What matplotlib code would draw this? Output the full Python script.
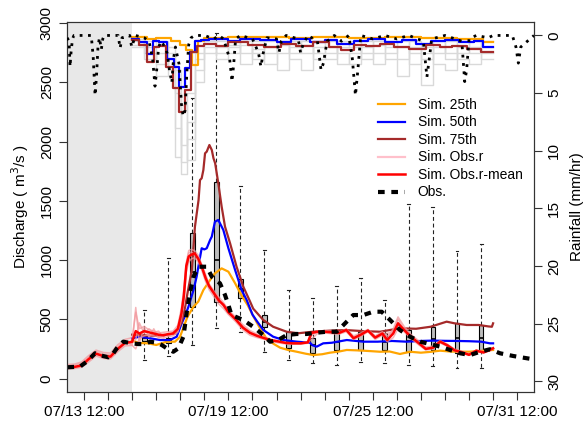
import matplotlib
matplotlib.use('Agg')
import matplotlib.pyplot as plt
from matplotlib.lines import Line2D
import numpy as np

plt.rcParams['font.family'] = ['Liberation Sans', 'DejaVu Sans']

# time axis: days since 07/13 12:00
x_ticks = list(range(19))
x_labels = ['07/13 12:00' if d == 0 else '07/19 12:00' if d == 6 else
            '07/25 12:00' if d == 12 else '07/31 12:00' if d == 18 else ''
            for d in x_ticks]
warmup_end = 2.0

# Observed discharge
t_obs = [-0.69, -0.17, 0.11, 0.46, 0.73, 1.01, 1.22, 1.36, 1.63, 1.98, 2.26, 2.54, 2.74,
         3.02, 3.23, 3.44, 3.71, 3.92, 4.13, 4.27, 4.41, 4.55, 4.76, 5.1, 5.31, 5.65, 5.86,
         6.0, 6.13, 6.62, 7.03, 7.45, 7.73, 8.07, 8.42, 8.84, 9.25, 9.67, 10.09, 10.5,
         10.85, 11.19, 11.61, 12.02, 12.37, 12.72, 13.13, 13.55, 13.97, 14.38, 14.8, 15.21,
         15.63, 16.04, 16.46, 16.87, 17.29, 17.84, 18.4, 18.68]
q_obs = [95, 100, 142, 213, 193, 179, 213, 255, 311, 297, 291, 291, 311,
         302, 283, 255, 226, 255, 353, 560, 730, 860, 944, 944, 860, 804, 705,
         621, 536, 494, 437, 367, 311, 325, 367, 376, 376, 387, 395, 395,
         466, 536, 536, 564, 564, 494, 409, 353, 311, 291, 269, 241,
         213, 198, 226, 247, 213, 190, 171, 162]

# Simulated with observed rainfall: members and mean
t_r = [-0.7, -0.4, -0.1, 0.2, 0.5, 0.8, 1.1, 1.4, 1.7, 2.0, 2.15, 2.3, 2.5, 2.7, 2.9, 3.1,
       3.3, 3.5, 3.7, 3.9, 4.05, 4.15, 4.25, 4.35, 4.45, 4.6, 4.75, 4.9, 5.05, 5.2, 5.4,
       5.6, 5.8, 6.0, 6.3, 6.6, 6.9, 7.2, 7.5, 7.8, 8.1, 8.4, 8.7, 9.0, 9.3, 9.45, 9.7,
       10.0, 10.3, 10.6, 10.9, 11.2, 11.5, 11.8, 12.1, 12.4, 12.6, 12.85, 13.05, 13.3,
       13.6, 13.9, 14.2, 14.5, 14.8, 15.1, 15.4, 15.7, 16.0, 16.3, 16.6, 16.85, 17.0]
q_r_mean = [95, 98, 110, 165, 210, 190, 185, 250, 300, 310, 400, 380, 400, 390, 380, 370,
            365, 375, 380, 420, 550, 700, 950, 1030, 1045, 1057, 1010, 940, 850, 780, 720,
            660, 620, 560, 500, 430, 385, 360, 340, 322, 312, 300, 297, 297, 305, 385, 395,
            395, 390, 385, 410, 340, 370, 405, 345, 380, 325, 380, 466, 410,
            350, 300, 250, 260, 311, 280, 238, 222, 200, 235, 220, 240, 255]
q_r_a = [118, 122, 140, 195, 240, 220, 215, 285, 330, 345, 560, 420, 440, 410, 400, 385,
         390, 395, 400, 450, 600, 760, 980, 1080, 1090, 1080, 1040, 960, 880, 800, 740,
         690, 640, 580, 520, 455, 405, 375, 350, 330, 318, 305, 300, 300, 310, 360, 400,
         405, 400, 390, 420, 360, 385, 415, 360, 395, 340, 420, 520, 440,
         370, 320, 265, 275, 320, 290, 248, 230, 210, 240, 228, 248, 262]
q_r_b = [80, 84, 95, 140, 190, 170, 165, 225, 275, 280, 250, 340, 360, 370, 360, 350,
         340, 355, 360, 390, 500, 640, 900, 980, 1010, 1020, 980, 910, 820, 750, 690,
         630, 590, 540, 480, 410, 365, 345, 330, 312, 300, 292, 290, 290, 298, 330, 380,
         385, 378, 375, 395, 330, 355, 395, 330, 365, 310, 345, 420, 395,
         335, 285, 240, 250, 300, 272, 230, 215, 195, 228, 215, 233, 250]
q_r_c = [104, 112, 130, 182, 228, 205, 202, 268, 318, 280, 600, 300, 430, 350, 420, 340,
         380, 360, 390, 420, 560, 720, 960, 1060, 1070, 1040, 1000, 930, 860, 770, 710,
         670, 610, 550, 500, 440, 390, 360, 340, 325, 310, 300, 295, 295, 302, 370, 390,
         395, 392, 380, 405, 345, 372, 410, 350, 385, 380, 400, 470, 420,
         355, 305, 255, 265, 310, 285, 240, 225, 205, 235, 222, 240, 258]
q_r_d = [88, 95, 108, 152, 205, 178, 180, 238, 292, 300, 330, 470, 380, 420, 390, 400,
         350, 380, 370, 405, 530, 680, 930, 1010, 1060, 1050, 1020, 950, 840, 790, 730,
         650, 630, 570, 495, 425, 395, 352, 345, 318, 315, 296, 300, 292, 308, 375, 398,
         390, 395, 380, 415, 350, 365, 400, 350, 372, 360, 390, 500, 420,
         345, 310, 245, 268, 305, 285, 235, 226, 198, 238, 218, 236, 252]

# Simulated percentiles (forecast rainfall)
t_p25 = [2.0, 2.3, 2.67, 3.0, 3.44, 3.78, 3.99, 4.15, 4.3, 4.55, 4.75, 4.96, 5.24, 5.44,
         5.72, 6.0, 6.28, 6.55, 6.8, 7.05, 7.3, 7.6, 7.9, 8.15, 8.5, 8.84, 9.2, 9.53, 9.9,
         10.22, 10.6, 10.92, 11.3, 11.61, 12.0, 12.3, 12.7, 13.13, 13.55, 14.0, 14.4, 14.8,
         15.2, 15.6, 16.0, 16.46, 16.8, 17.0]
q_p25 = [320, 300, 297, 283, 311, 311, 353, 440, 522, 606, 650, 747, 832, 888,
         930, 902, 804, 700, 620, 520, 430, 330, 290, 260, 240, 226, 210, 198, 205,
         218, 228, 241, 238, 235, 230, 226, 228, 207, 226, 218, 225, 235,
         228, 226, 226, 232, 238, 241]
t_p50 = [2.0, 2.33, 2.74, 3.16, 3.57, 3.85, 4.06, 4.2, 4.34, 4.55, 4.68, 4.8, 4.89, 5.0,
         5.1, 5.24, 5.31, 5.44, 5.58, 5.79, 6.0, 6.28, 6.55, 6.76, 7.0, 7.2, 7.45, 7.86,
         8.28, 8.84, 9.39, 9.5, 9.67, 9.94, 10.3, 10.92, 11.6, 12.2, 12.8, 13.4, 14.0, 14.5,
         15.0, 15.5, 16.0, 16.5, 16.87, 17.0]
q_p50 = [340, 353, 340, 325, 325, 353, 466, 530, 606, 747, 860, 1000, 1100, 1090,
         1100, 1170, 1198, 1324, 1339, 1254, 1100, 916, 747, 663, 540, 480, 410, 353,
         325, 311, 302, 280, 269, 297, 302, 325, 311, 311, 317, 311, 317, 320,
         318, 317, 315, 311, 297, 297]
t_p75 = [2.0, 2.5, 3.0, 3.5, 3.8, 4.05, 4.2, 4.3, 4.41, 4.48, 4.61, 4.76, 4.82, 4.89, 4.96,
         5.03, 5.1, 5.21, 5.31, 5.38, 5.45, 5.58, 5.72, 5.86, 6.07, 6.34, 6.62, 6.9, 7.03,
         7.45, 7.86, 8.42, 8.9, 9.5, 10.2, 10.9, 11.6, 12.3, 13.13, 13.8, 14.4, 15.07, 15.4,
         15.9, 16.4, 16.8, 16.95, 17.0]
q_p75 = [370, 365, 360, 370, 380, 470, 600, 720, 840, 916, 1282, 1507, 1676, 1691, 1761,
         1902, 1916, 1972, 1930, 1860, 1818, 1649, 1451, 1282, 1142, 944, 775, 650, 590,
         494, 437, 395, 382, 395, 404, 409, 400, 395, 424, 420, 437, 480, 466,
         452, 452, 440, 437, 466]

# Daily boxplots of simulated discharge
box_t = [2.5, 3.5, 4.5, 5.5, 6.5, 7.5, 8.5, 9.5, 10.5, 11.5, 12.5, 13.5, 14.5, 15.5, 16.5]
box_lo = [156, 190, 283, 424, 395, 226, 156, 128, 114, 142, 128, 114, 106, 86, 86]
box_q1 = [320, 300, 600, 650, 680, 437, 255, 213, 241, 241, 241, 226, 241, 213, 241]
box_med = [340, 320, 900, 1000, 760, 480, 320, 280, 310, 320, 310, 320, 330, 340, 340]
box_q3 = [360, 345, 1226, 1662, 840, 536, 395, 340, 382, 395, 382, 409, 437, 466, 452]
box_hi = [578, 1015, 2367, 2918, 1628, 1085, 747, 677, 781, 846, 660, 1471, 1451, 1077, 1136]

# Observed rainfall
t_rain = [-0.7, -0.62, -0.58, -0.54, -0.48, -0.42, 0.3, 0.38, 0.46, 0.52, 0.58, 0.64, 0.72,
          0.78, 0.84, 1.42, 1.5, 1.58, 1.9, 1.98, 2.06, 2.14, 2.5, 2.7, 2.85, 2.95, 3.02,
          3.1, 3.2, 3.3, 3.45, 3.55, 3.65, 3.72, 3.8, 3.95, 4.05, 4.12, 4.2, 4.28, 4.35,
          4.45, 4.6, 5.0, 5.4, 5.6, 5.8, 6.05, 6.15, 6.22, 6.3, 6.5, 7.0, 7.25, 7.35, 7.45,
          7.6, 8.0, 8.1, 8.2, 8.4, 8.9, 9.0, 9.1, 9.3, 9.7, 9.85, 9.95, 10.1, 10.4, 10.7,
          11.0, 11.15, 11.28, 11.38, 11.5, 12.0, 12.5, 13.0, 13.5, 14.1, 14.25, 14.35,
          14.45, 15.0, 15.7, 15.82, 15.9, 16.0, 16.3, 16.8, 17.0, 17.8, 17.95, 18.05,
          18.15, 18.7]
r_obs = [0.2, 0.5, 2.7, 1.5, 0.3, 0.0, 0.0, 1.8, 5.2, 3.5, 1.0, 0.2, 1.2,
         0.3, 0.0, 0.0, 1.1, 0.2, 0.0, 1.0, 0.5, 0.0, 0.2, 0.5, 2.0, 4.4, 3.0,
         1.0, 0.5, 0.8, 1.5, 3.0, 4.1, 2.0, 1.0, 2.5, 6.0, 7.0, 6.5, 3.0, 0.8,
         0.2, 0.0, 0.0, 0.3, 0.0, 0.3, 2.0, 4.0, 2.5, 0.3, 0.0, 0.3, 1.5, 2.7, 1.5,
         0.2, 0.3, 1.5, 0.5, 0.0, 0.3, 1.5, 0.8, 0.0, 0.5, 3.0, 2.4, 0.5, 0.0, 0.5,
         0.0, 2.0, 5.2, 3.0, 0.0, 0.3, 0.0, 0.3, 0.0, 0.5, 3.6, 2.0,
         0.3, 0.0, 0.5, 4.0, 3.0, 0.3, 0.0, 0.2, 0.0, 0.0, 1.0, 2.4,
         1.0, 0.0]

# Forecast rainfall percentiles (step)
t_r25 = [2.0, 2.6, 3.0, 3.6, 4.0, 4.25, 4.5, 4.75, 5.0, 6.0, 8.5, 9.5, 11.0, 12.5, 14.0,
         15.5, 16.6, 17.0]
r_p25 = [0.1, 0.3, 0.2, 0.5, 0.8, 1.3, 2.6, 0.5, 0.2, 0.1, 0.2, 0.1, 0.2, 0.1, 0.2,
         0.3, 0.6, 0.6]
t_r50 = [2.0, 2.3, 2.6, 2.85, 3.1, 3.45, 3.75, 3.95, 4.2, 4.4, 4.6, 4.85, 5.2, 6.0, 6.5,
         7.3, 8.0, 8.6, 9.4, 10.0, 10.5, 11.2, 11.8, 12.5, 13.2, 13.8, 14.4, 15.0, 15.6,
         16.2, 16.6, 17.0]
r_p50 = [0.3, 0.6, 1.6, 0.5, 0.6, 2.0, 2.7, 4.5, 2.8, 1.4, 0.5, 0.4, 0.3, 0.5, 0.3,
         0.4, 0.6, 0.3, 0.6, 0.4, 0.7, 0.5, 0.3, 0.6, 0.4, 0.7, 0.5, 0.4, 0.6,
         0.5, 1.0, 1.0]
t_r75 = [2.0, 2.3, 2.6, 2.9, 3.1, 3.4, 3.7, 3.95, 4.2, 4.45, 4.7, 5.0, 5.5, 6.0, 6.8,
         7.5, 8.2, 8.8, 9.5, 10.2, 10.7, 11.2, 11.7, 12.3, 12.9, 13.5, 14.2, 14.8, 15.3,
         15.9, 16.5, 17.0]
r_p75 = [0.4, 0.8, 2.3, 1.0, 0.9, 2.7, 4.6, 6.6, 4.7, 1.4, 0.9, 0.7, 0.9, 0.6, 0.8,
         1.0, 0.7, 0.9, 0.6, 1.0, 1.3, 0.8, 0.9, 0.7, 1.0, 1.2, 0.8, 1.0, 0.9,
         1.2, 1.4, 1.4]

# Forecast rainfall members (light grey steps)
t_rm = [2.0, 2.5, 3.0, 3.5, 3.8, 4.05, 4.3, 4.6, 5.0, 5.5, 6.0, 6.5, 7.0, 7.5, 8.0, 8.5,
        9.0, 9.5, 10.0, 10.5, 11.0, 11.5, 12.0, 12.5, 13.0, 13.5, 14.0, 14.5, 15.0, 15.5,
        16.0, 16.5, 17.0]
r_m1 = [0.5, 1.5, 2.5, 1.0, 3.0, 11.0, 5.0, 2.0, 1.0, 0.5, 1.5, 0.8, 2.0, 1.0, 3.0, 1.0,
        0.5, 2.0, 1.0, 1.5, 2.5, 1.0, 0.8, 2.0, 3.5, 1.0, 4.3, 1.5, 0.5, 2.0, 2.5, 1.0, 1.0]
r_m2 = [1.0, 0.5, 3.5, 2.0, 10.5, 6.0, 10.8, 1.5, 0.5, 2.0, 0.5, 2.5, 0.5, 1.5, 0.8, 2.0,
        3.0, 0.5, 1.5, 0.5, 1.0, 2.0, 1.5, 0.5, 1.0, 2.5, 1.0, 2.5, 3.0, 1.0, 0.5, 2.0, 2.0]
r_m3 = [0.3, 2.0, 1.5, 3.0, 8.0, 9.5, 7.5, 3.0, 1.5, 1.0, 0.8, 1.5, 1.2, 0.5, 1.5, 0.5,
        1.5, 1.0, 0.5, 2.5, 1.5, 0.5, 2.5, 1.5, 0.5, 1.5, 2.0, 0.5, 1.5, 0.5, 1.5, 0.5, 0.5]
r_m4 = [0.8, 1.0, 0.5, 1.5, 5.0, 12.0, 9.0, 4.0, 0.5, 1.5, 1.0, 0.5, 1.5, 2.5, 0.5, 1.5,
        0.8, 1.5, 2.0, 1.0, 0.5, 1.5, 0.5, 1.0, 2.0, 0.5, 1.5, 1.0, 2.0, 1.5, 1.0, 1.5, 1.5]

W, H = 587, 430
fig = plt.figure(figsize=(W / 100, H / 100), dpi=100)
L, R, T, B = 67, 534, 21.5, 392
ax = fig.add_axes([L / W, 1 - B / H, (R - L) / W, (B - T) / H])

ax.set_xlim(-0.707, 18.70)
ax.set_ylim(-114, 3015)
ax.axvspan(-0.707, warmup_end, color='#E8E8E8', lw=0, zorder=0)

stats = [dict(whislo=a, q1=b, med=c, q3=d, whishi=e, fliers=[])
         for a, b, c, d, e in zip(box_lo, box_q1, box_med, box_q3, box_hi)]
ax.bxp(stats, positions=box_t, widths=0.2, capwidths=0.12, patch_artist=True,
       showfliers=False, manage_ticks=False,
       boxprops=dict(facecolor='#BEBEBE', edgecolor='black', linewidth=0.8),
       whiskerprops=dict(color='#222222', linewidth=0.8, linestyle=(0, (3.5, 2.5))),
       capprops=dict(color='#222222', linewidth=0.8),
       medianprops=dict(color='black', linewidth=1.2), zorder=2)

l25, = ax.plot(t_p25, q_p25, color='orange', lw=1.6, zorder=3)
l50, = ax.plot(t_p50, q_p50, color='blue', lw=1.6, zorder=3)
l75, = ax.plot(t_p75, q_p75, color='brown', lw=1.6, zorder=3)
for q in (q_r_a, q_r_b, q_r_c, q_r_d):
    ax.plot(t_r, q, color='#F29A9F', lw=1.1, alpha=0.75, zorder=4)
lrm, = ax.plot(t_r, q_r_mean, color='red', lw=1.8, zorder=5)
lob, = ax.plot(t_obs, q_obs, color='black', lw=3.0, ls=(0, (1.6, 1.6)), zorder=6)
lpk = Line2D([], [], color='pink', lw=1.6)

ax.set_xticks(x_ticks)
ax.set_xticklabels(x_labels)
ax.set_yticks([0, 500, 1000, 1500, 2000, 2500, 3000])
ax.tick_params(axis='both', labelsize=11, length=6, width=0.8, direction='out', color='#333333')
ax.tick_params(axis='y', labelrotation=90)
for lb in ax.get_yticklabels():
    lb.set_va('center')
ax.set_ylabel('Discharge ( m$^3$/s )', fontsize=11, labelpad=6)

ax2 = ax.twinx()
ax2.set_ylim(30.92, -1.21)
for rm in (r_m1, r_m2, r_m3, r_m4):
    ax2.plot(t_rm, rm, color='#D9D9D9', lw=1.0, drawstyle='steps-post', zorder=1)
ax2.plot(t_r25, r_p25, color='orange', lw=1.6, drawstyle='steps-post', zorder=2)
ax2.plot(t_r50, r_p50, color='blue', lw=1.6, drawstyle='steps-post', zorder=3)
ax2.plot(t_r75, r_p75, color='brown', lw=1.6, drawstyle='steps-post', zorder=4)
ax2.plot(t_rain, r_obs, color='black', lw=2.0, ls=(0, (1, 2)), zorder=5)
ax2.set_yticks([0, 5, 10, 15, 20, 25, 30])
ax2.tick_params(axis='y', labelsize=11, length=6, width=0.8, labelrotation=90, color='#333333')
for lb in ax2.get_yticklabels():
    lb.set_va('center')
ax2.set_ylabel('Rainfall (mm/hr)', fontsize=11, labelpad=6)

for a in (ax, ax2):
    for s in a.spines.values():
        s.set_linewidth(0.8)
        s.set_color('#333333')

ax2.legend([l25, l50, l75, lpk, lrm, lob],
           ['Sim. 25th', 'Sim. 50th', 'Sim. 75th', 'Sim. Obs.r', 'Sim. Obs.r-mean', 'Obs.'],
           loc='upper left', bbox_to_anchor=(378 / W, 1 - 98 / H), bbox_transform=fig.transFigure,
           frameon=False, fontsize=10, handlelength=1.95, handletextpad=0.9,
           borderpad=0, borderaxespad=0, labelspacing=0.25)

fig.savefig('out.png', dpi=100)
